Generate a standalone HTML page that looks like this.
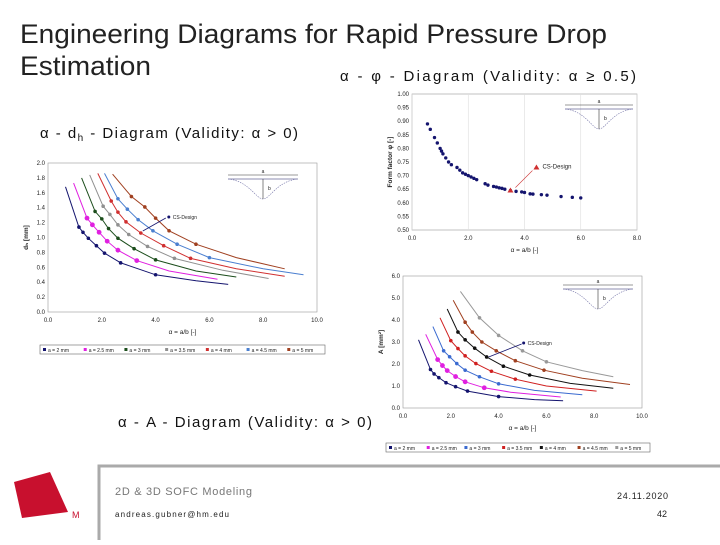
<!DOCTYPE html>
<html><head><meta charset="utf-8"><style>
body{margin:0;background:#fff;width:720px;height:540px;overflow:hidden;font-family:"Liberation Sans",sans-serif}
svg text{font-family:"Liberation Sans","DejaVu Sans",sans-serif}
</style></head><body>
<svg id="s" width="720" height="540">
<text x="20" y="43" font-size="27" textLength="587" lengthAdjust="spacingAndGlyphs" fill="#222">Engineering Diagrams for Rapid Pressure Drop</text>
<text x="20" y="75" font-size="27" textLength="131" lengthAdjust="spacingAndGlyphs" fill="#222">Estimation</text>
<text x="340" y="81" font-size="15" textLength="296" fill="#111">α - φ - Diagram (Validity:  α ≥ 0.5)</text>
<text x="40" y="138" font-size="15" fill="#111" textLength="258">α - d<tspan font-size="10" dy="3">h</tspan><tspan dy="-3"> - Diagram (Validity:  α &gt; 0)</tspan></text>
<text x="118" y="427" font-size="15" textLength="254" fill="#111">α - A - Diagram (Validity:  α &gt; 0)</text>
<path d="M99 540 V466 H720" fill="none" stroke="#aaa" stroke-width="3"/>
<polygon points="14,482 50,472 68,512 22,518" fill="#c8102e"/>
<text x="72" y="518" font-size="9" fill="#c8102e">M</text>
<text x="115" y="495" font-size="11" textLength="137" fill="#777">2D &amp; 3D SOFC Modeling</text>
<text x="115" y="517" font-size="8" textLength="114" fill="#222">andreas.gubner@hm.edu</text>
<text x="617" y="499" font-size="9" textLength="51" fill="#222">24.11.2020</text>
<text x="667" y="517" font-size="9" fill="#222" text-anchor="end">42</text>
</svg>
<script>
// ---- data: phi chart ----
const phiX=[0.55,0.65,0.8,0.9,1.0,1.05,1.1,1.2,1.3,1.4,1.6,1.7,1.8,1.9,2.0,2.1,2.2,2.3,2.6,2.7,2.9,3.0,3.1,3.2,3.3,3.5,3.7,3.9,4.0,4.2,4.3,4.6,4.8,5.3,5.7,6.0];
const phiY=[0.89,0.87,0.84,0.82,0.80,0.79,0.78,0.765,0.75,0.74,0.73,0.72,0.71,0.705,0.70,0.695,0.69,0.685,0.67,0.665,0.66,0.658,0.655,0.653,0.65,0.645,0.642,0.64,0.638,0.633,0.632,0.63,0.628,0.623,0.62,0.618];
const phiDesign=[3.5,0.645];
const phiXTicks=["0.0","2.0","4.0","6.0","8.0"];
const phiYTicks=["0.50","0.55","0.60","0.65","0.70","0.75","0.80","0.85","0.90","0.95","1.00"];
// ---- data: dh chart ----
const seriesNames=["a = 2 mm","a = 2.5 mm","a = 3 mm","a = 3.5 mm","a = 4 mm","a = 4.5 mm","a = 5 mm"];
const dhX=[[0.65,1.15,1.3,1.5,1.8,2.1,2.7,4,5.5,6.7],[0.95,1.45,1.65,1.9,2.2,2.6,3.3,4.5,6.3],[1.25,1.75,2.0,2.25,2.6,3.2,4.0,5.5,7.0],[1.55,2.05,2.3,2.6,3.0,3.7,4.7,6.5,8.2],[1.85,2.35,2.6,2.9,3.45,4.3,5.3,7.0,8.8],[2.1,2.6,2.95,3.35,3.9,4.8,6.0,8.0,9.5],[2.4,3.1,3.6,4.0,4.5,5.5,7.0,8.8]];
const dhY=[[1.68,1.14,1.07,0.99,0.89,0.79,0.66,0.5,0.42,0.37],[1.73,1.26,1.17,1.07,0.95,0.83,0.69,0.55,0.44],[1.8,1.35,1.25,1.12,0.99,0.85,0.70,0.55,0.47],[1.84,1.42,1.31,1.17,1.04,0.88,0.72,0.56,0.45],[1.86,1.49,1.34,1.21,1.06,0.89,0.72,0.58,0.48],[1.86,1.52,1.38,1.24,1.09,0.91,0.73,0.58,0.50],[1.85,1.55,1.41,1.26,1.09,0.91,0.73,0.58]];
const dhDesign=[3.45,1.06];
const dhXTicks=["0.0","2.0","4.0","6.0","8.0","10.0"];
const dhYTicks=["0.0","0.2","0.4","0.6","0.8","1.0","1.2","1.4","1.6","1.8","2.0"];
// ---- data: A chart ----
const aX=[[0.65,1.15,1.3,1.5,1.8,2.2,2.7,4,5.5,6.7],[0.95,1.45,1.65,1.85,2.2,2.6,3.4,4.5,6.6],[1.25,1.7,1.95,2.25,2.6,3.2,4.0,5.5,7.5],[1.55,2.0,2.3,2.6,3.05,3.7,4.7,6.0,8.1],[1.85,2.3,2.6,3.0,3.5,4.2,5.3,7.0,8.8],[2.1,2.6,2.9,3.3,3.9,4.7,5.9,7.5,9.5],[2.4,3.2,4.0,5.0,6.0,7.5,8.8]];
const aY=[[3.1,1.75,1.55,1.38,1.15,0.97,0.77,0.52,0.38,0.33],[3.35,2.2,1.93,1.7,1.43,1.19,0.92,0.72,0.5],[3.7,2.6,2.33,2.02,1.72,1.42,1.1,0.8,0.6],[4.1,3.06,2.7,2.37,2.02,1.67,1.31,1.0,0.77],[4.5,3.45,3.1,2.72,2.32,1.9,1.5,1.12,0.9],[4.9,3.9,3.45,3.0,2.6,2.15,1.72,1.35,1.07],[5.3,4.1,3.3,2.6,2.1,1.7,1.42]];
const aDesign=[3.5,2.32];
const aXTicks=["0.0","2.0","4.0","6.0","8.0","10.0"];
const aYTicks=["0.0","1.0","2.0","3.0","4.0","5.0","6.0"];

const NS="http://www.w3.org/2000/svg";const svg=document.getElementById('s');
function el(t,a,p){const e=document.createElementNS(NS,t);for(const k in a)e.setAttribute(k,a[k]);(p||svg).appendChild(e);return e;}
function txt(x,y,s,a,p){const e=el('text',Object.assign({x:x,y:y,'font-size':6,fill:'#222'},a||{}),p);e.textContent=s;return e;}
function axes(g,L,R,T,B,xt,yt,xmax,ymin,ymax,xl,yl,vgrid){
  const sx=v=>L+(v/xmax)*(R-L), sy=v=>B-(v-ymin)/(ymax-ymin)*(B-T);
  el('rect',{x:L,y:T,width:R-L,height:B-T,fill:'#fff',stroke:'#999','stroke-width':0.6},g);
  xt.forEach(t=>{const x=sx(+t);if(vgrid){const l=el('line',{x1:x,x2:x,y1:T,y2:B,stroke:'#ddd','stroke-width':0.6},g);}
    const e=txt(x,B+10,t,{'text-anchor':'middle'},g);});
  yt.forEach(t=>{const e=txt(L-3,sy(+t)+2,t,{'text-anchor':'end'},g);});
  const xe=txt((L+R)/2,B+22,xl,{'text-anchor':'middle','font-size':6.5},g);
  const ye=txt(0,0,yl,{'text-anchor':'middle','font-size':6.5,'font-weight':'bold',transform:`translate(${L-20},${(T+B)/2}) rotate(-90)`},g);
  return [sx,sy];
}
function inset(g,x,y,w){
  el('line',{x1:x,x2:x+w,y1:y,y2:y,stroke:'#333','stroke-width':0.6},g);
  el('line',{x1:x,x2:x+w,y1:y+4,y2:y+4,stroke:'#669','stroke-width':0.7},g);
  el('path',{d:`M${x} ${y+4} C${x+w*0.3} ${y+6},${x+w*0.4} ${y+24},${x+w/2} ${y+24} C${x+w*0.6} ${y+24},${x+w*0.7} ${y+6},${x+w} ${y+4}`,fill:'none',stroke:'#77a','stroke-width':0.6,'stroke-dasharray':'1.5,1'},g);
  el('line',{x1:x+w/2,x2:x+w/2,y1:y+4,y2:y+24,stroke:'#333','stroke-width':0.6},g);
  txt(x+w/2,y-2,'a',{'font-size':5,'text-anchor':'middle'},g);txt(x+w/2+5,y+15,'b',{'font-size':5},g);
}
const colors=['#14146e','#e020e0','#1b4d1b','#909090','#d03030','#4a7fd0','#a04020'];
const colorsA=['#14146e','#e020e0','#3a6ad0','#d02020','#111','#a04020','#999'];
function series(g,sx,sy,X,Y,cols,name){
  X.forEach((xs,i)=>{
    const d=xs.map((x,j)=>(j?'L':'M')+sx(x).toFixed(1)+' '+sy(Y[i][j]).toFixed(1)).join(' ');
    const p=el('path',{d:d,fill:'none',stroke:cols[i],'stroke-width':1},g);
    
    
    xs.forEach((x,j)=>{if(j===0||j>=xs.length-2)return;
      const m=el('circle',{cx:sx(x),cy:sy(Y[i][j]),r:i===1?2.4:1.8,fill:cols[i]},g);
      
      });
  });
}
function legend(g,x,y,w,cols){
  el('rect',{x:x,y:y-5,width:w,height:9,fill:'#fff',stroke:'#666','stroke-width':0.6},g);
  seriesNames.forEach((n,i)=>{const lx=x+3+i*(w/7);
    el('rect',{x:lx,y:y-2,width:3,height:3,fill:cols[i]},g);
    const e=txt(lx+5,y+2,n,{'font-size':5},g);
    
    });
}
// phi chart
const g1=el('g',{});
let [sx,sy]=axes(g1,412,637,94,230,phiXTicks,phiYTicks,8,0.5,1.0,'α = a/b [-]','Form factor φ [-]',true);
inset(g1,565,105,68);
phiX.forEach((x,i)=>{const c=el('circle',{cx:sx(x),cy:sy(phiY[i]),r:1.7,fill:'#14146e'},g1);
  
  });
{const x=sx(phiDesign[0]),y=sy(phiDesign[1]);
 const t=el('polygon',{points:`${x},${y-3} ${x-3},${y+2} ${x+3},${y+2}`,fill:'#d03030'},g1);
 el('line',{x1:x+5,y1:y-3,x2:x+22,y2:y-20,stroke:'#c33','stroke-width':0.7},g1);
 el('polygon',{points:`${x+26},${y-26} ${x+23},${y-21} ${x+29},${y-21}`,fill:'#d03030'},g1);
 txt(x+32,y-22,'CS-Design',{'font-size':6},g1);}
// dh chart
const g2=el('g',{});
[sx,sy]=axes(g2,48,317,163,312,dhXTicks,dhYTicks,10,0,2.0,'α = a/b [-]','dₕ [mm]',false);
inset(g2,228,175,70);
series(g2,sx,sy,dhX,dhY,colors,'dh');
{const x=sx(dhDesign[0]),y=sy(dhDesign[1]);
 el('line',{x1:x+2,y1:y-2,x2:x+25,y2:y-15,stroke:'#14146e','stroke-width':0.8},g2);
 el('circle',{cx:x+28,cy:y-16,r:1.5,fill:'#14146e'},g2);txt(x+32,y-14,'CS-Design',{'font-size':5},g2);}
legend(g2,40,350,285,colors);
// A chart
const g3=el('g',{});
[sx,sy]=axes(g3,403,642,276,408,aXTicks,aYTicks,10,0,6.0,'α = a/b [-]','A [mm²]',false);
inset(g3,563,285,70);
series(g3,sx,sy,aX,aY,colorsA,'area');
{const x=sx(aDesign[0]),y=sy(aDesign[1]);
 el('line',{x1:x+2,y1:y,x2:x+35,y2:y-13,stroke:'#14146e','stroke-width':0.8},g3);
 el('circle',{cx:x+37,cy:y-14,r:1.5,fill:'#14146e'},g3);txt(x+41,y-12,'CS-Design',{'font-size':5},g3);}
legend(g3,386,448,264,colorsA);
</script>
</body></html>
